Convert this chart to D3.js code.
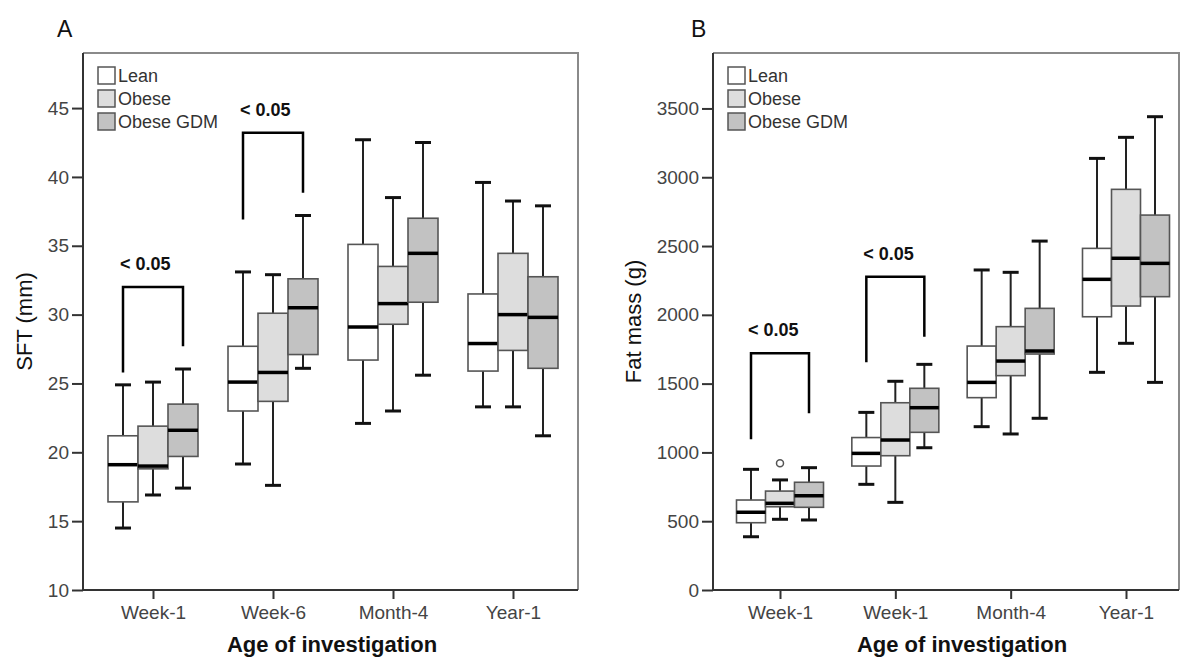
<!DOCTYPE html>
<html>
<head>
<meta charset="utf-8">
<script src="https://cdn.jsdelivr.net/npm/d3@7"></script>
<style>
  body { margin: 0; background: #fff; }
  text { font-family: "Liberation Sans", Arial, sans-serif; }
</style>
</head>
<body>
<div id="chart"></div>
<script>
// groups and categories
let groups = ["Lean", "Obese", "Obese GDM"];
let catsA = ["Week-1", "Week-6", "Month-4", "Year-1"];
let catsB = ["Week-1", "Week-1", "Month-4", "Year-1"];

// [min, q1, median, q3, max] per category
let sftLean  = [[14.5, 16.4, 19.1, 21.2, 24.9], [19.15, 23.0, 25.1, 27.7, 33.1], [22.1, 26.7, 29.1, 35.1, 42.7], [23.3, 25.9, 27.9, 31.5, 39.6]];
let sftObese = [[16.9, 18.8, 19.0, 21.9, 25.1], [17.6, 23.7, 25.8, 30.1, 32.9], [23.0, 29.3, 30.8, 33.5, 38.5], [23.3, 27.4, 30.0, 34.45, 38.25]];
let sftGdm   = [[17.4, 19.7, 21.6, 23.5, 26.05], [26.1, 27.1, 30.5, 32.6, 37.2], [25.6, 30.9, 34.45, 37.0, 42.5], [21.2, 26.1, 29.8, 32.75, 37.9]];

let fatLean  = [[387, 489, 565, 654, 877], [768, 901, 993, 1108, 1291], [1187, 1398, 1509, 1773, 2326], [1582, 1986, 2258, 2483, 3137]];
let fatObese = [[514, 605, 630, 719, 800], [637, 976, 1090, 1361, 1517], [1134, 1558, 1664, 1914, 2309], [1793, 2064, 2411, 2912, 3290]];
let fatGdm   = [[509, 601, 685, 783, 889], [1034, 1146, 1325, 1466, 1640], [1248, 1715, 1737, 2047, 2536], [1509, 2132, 2374, 2725, 3440]];

let fatOutliers = [{cat: 0, group: 1, value: 921}];

let ticksA = [10, 15, 20, 25, 30, 35, 40, 45];
let ticksB = [0, 500, 1000, 1500, 2000, 2500, 3000, 3500];

// significance brackets: value of top bar, left leg end, right leg end
let sigA = [{cat: 0, top: 32.0, left: 25.8, right: 27.7, label: "< 0.05"},
            {cat: 1, top: 43.2, left: 36.9, right: 38.85, label: "< 0.05"}];
let sigB = [{cat: 0, top: 1720, left: 1095, right: 1284, label: "< 0.05"},
            {cat: 1, top: 2277, left: 1655, right: 1841, label: "< 0.05"}];

let fills = ["#ffffff", "#dddddd", "#c2c2c2"];

let width = 1181;
let height = 659;

let svg = d3.select("#chart").append("svg")
    .attr("width", width)
    .attr("height", height);

function drawPanel(opts) {
    let g = svg.append("g");

    let y = d3.scaleLinear()
        .domain(opts.yDomain)
        .range([opts.bottom, opts.top]);

    let x = d3.scalePoint()
        .domain(d3.range(opts.cats.length))
        .range(opts.centers);

    let offset = d3.scalePoint()
        .domain(d3.range(groups.length))
        .range([-opts.boxW, opts.boxW]);

    // frame top/right
    g.append("path")
        .attr("d", `M${opts.left},${opts.top}H${opts.right}V${opts.bottom}`)
        .attr("fill", "none")
        .attr("stroke", "#8a8a8a")
        .attr("stroke-width", 2);

    // y axis
    let yAxis = g.append("g")
        .attr("transform", `translate(${opts.left},0)`)
        .call(d3.axisLeft(y).tickValues(opts.ticks).tickFormat(d3.format("d")).tickSize(11).tickPadding(3));
    yAxis.select(".domain").attr("d", `M0,${opts.top}V${opts.bottom}`);

    // x axis
    let xAxis = g.append("g")
        .attr("transform", `translate(0,${opts.bottom})`)
        .call(d3.axisBottom(x).tickFormat(i => opts.cats[i]).tickSize(9).tickPadding(7));
    xAxis.select(".domain").attr("d", `M${opts.left},0H${opts.right}`);

    [yAxis, xAxis].forEach(a => {
        a.select(".domain").attr("stroke", "#333").attr("stroke-width", 2);
        a.selectAll(".tick line").attr("stroke", "#333").attr("stroke-width", 2);
        a.selectAll(".tick text")
            .attr("fill", "#444")
            .style("font-size", "19px")
            .style("font-family", "Liberation Sans, Arial, sans-serif");
    });

    // boxes
    opts.series.forEach((s, gi) => {
        s.forEach((d, ci) => {
            let cx = x(ci) + offset(gi);
            let hw = opts.boxW / 2;
            let capW = 8;

            g.append("line")
                .attr("x1", cx).attr("x2", cx)
                .attr("y1", y(d[4])).attr("y2", y(d[3]))
                .attr("stroke", "#222").attr("stroke-width", 2);
            g.append("line")
                .attr("x1", cx).attr("x2", cx)
                .attr("y1", y(d[1])).attr("y2", y(d[0]))
                .attr("stroke", "#222").attr("stroke-width", 2);
            g.append("line")
                .attr("x1", cx - capW).attr("x2", cx + capW)
                .attr("y1", y(d[4])).attr("y2", y(d[4]))
                .attr("stroke", "#111").attr("stroke-width", 3);
            g.append("line")
                .attr("x1", cx - capW).attr("x2", cx + capW)
                .attr("y1", y(d[0])).attr("y2", y(d[0]))
                .attr("stroke", "#111").attr("stroke-width", 3);

            g.append("rect")
                .attr("x", cx - hw)
                .attr("y", y(d[3]))
                .attr("width", opts.boxW)
                .attr("height", y(d[1]) - y(d[3]))
                .attr("fill", fills[gi])
                .attr("stroke", "#555")
                .attr("stroke-width", 1.6);

            g.append("line")
                .attr("x1", cx - hw).attr("x2", cx + hw)
                .attr("y1", y(d[2])).attr("y2", y(d[2]))
                .attr("stroke", "#000").attr("stroke-width", 3.5);
        });
    });

    (opts.outliers || []).forEach(o => {
        g.append("circle")
            .attr("cx", x(o.cat) + offset(o.group))
            .attr("cy", y(o.value))
            .attr("r", 3.5)
            .attr("fill", "none")
            .attr("stroke", "#555")
            .attr("stroke-width", 1.5);
    });

    // significance brackets
    opts.sig.forEach(s => {
        let x1 = x(s.cat) + offset(0);
        let x2 = x(s.cat) + offset(2);
        g.append("path")
            .attr("d", `M${x1},${y(s.left)}V${y(s.top)}H${x2}V${y(s.right)}`)
            .attr("fill", "none")
            .attr("stroke", "#000")
            .attr("stroke-width", 2.5);
        g.append("text")
            .attr("x", x1 - 3)
            .attr("y", y(s.top) - 17)
            .attr("font-size", 18)
            .attr("font-weight", "bold")
            .attr("fill", "#111")
            .text(s.label);
    });

    // legend
    groups.forEach((name, i) => {
        let ly = 67 + i * 23;
        g.append("rect")
            .attr("x", opts.left + 15)
            .attr("y", ly)
            .attr("width", 17)
            .attr("height", 17)
            .attr("fill", fills[i])
            .attr("stroke", "#555")
            .attr("stroke-width", 1.5);
        g.append("text")
            .attr("x", opts.left + 35)
            .attr("y", ly + 15)
            .attr("font-size", 18)
            .attr("fill", "#333")
            .text(name);
    });

    // panel letter
    g.append("text")
        .attr("x", opts.letterX)
        .attr("y", 37)
        .attr("font-size", 23)
        .attr("fill", "#111")
        .text(opts.letter);

    // axis titles
    g.append("text")
        .attr("transform", `translate(${opts.yTitleX},${(opts.top + opts.bottom) / 2}) rotate(-90)`)
        .attr("text-anchor", "middle")
        .attr("font-size", 22)
        .attr("fill", "#111")
        .text(opts.yTitle);

    g.append("text")
        .attr("x", opts.xTitleX)
        .attr("y", 652)
        .attr("text-anchor", "middle")
        .attr("font-size", 22)
        .attr("font-weight", "bold")
        .attr("fill", "#111")
        .text("Age of investigation");
}

drawPanel({
    letter: "A", letterX: 57,
    left: 83, right: 578, top: 53, bottom: 590,
    centers: [153, 513], cats: catsA, boxW: 30,
    yDomain: [10, 49], ticks: ticksA,
    series: [sftLean, sftObese, sftGdm],
    sig: sigA,
    yTitle: "SFT (mm)", yTitleX: 32,
    xTitleX: 332
});

drawPanel({
    letter: "B", letterX: 691,
    left: 713, right: 1179, top: 53, bottom: 590,
    centers: [780, 1126], cats: catsB, boxW: 29,
    yDomain: [0, 3903], ticks: ticksB,
    series: [fatLean, fatObese, fatGdm],
    outliers: fatOutliers,
    sig: sigB,
    yTitle: "Fat mass (g)", yTitleX: 641,
    xTitleX: 962
});
</script>
</body>
</html>
